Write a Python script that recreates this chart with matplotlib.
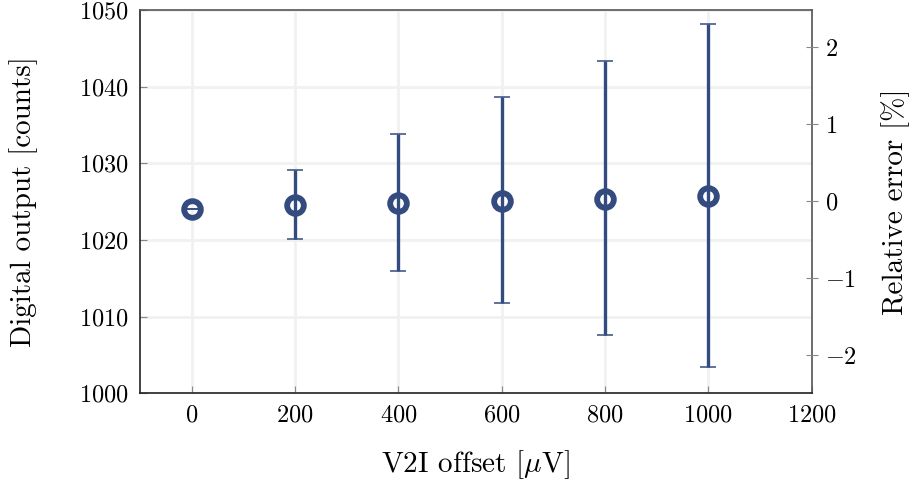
import matplotlib
matplotlib.use('Agg')
import matplotlib.pyplot as plt

# V2I offset sweep
offsets = [0, 200, 400, 600, 800, 1000]
counts = [1024.0, 1024.5, 1024.8, 1025.1, 1025.35, 1025.7]
lower = [1024.0, 1020.1, 1015.9, 1011.8, 1007.6, 1003.4]
upper = [1024.0, 1029.1, 1033.8, 1038.6, 1043.3, 1048.2]

x_ticks = [0, 200, 400, 600, 800, 1000, 1200]
y_ticks = [1000, 1010, 1020, 1030, 1040, 1050]
err_ticks = [-2, -1, 0, 1, 2]

plt.rcParams['font.family'] = ['cmr10', 'DejaVu Serif']
plt.rcParams['mathtext.fontset'] = 'cm'
plt.rcParams['axes.formatter.use_mathtext'] = True
plt.rcParams['axes.unicode_minus'] = True

color = '#344b80'

fig = plt.figure(figsize=(9.15, 4.8), dpi=100)
ax = fig.add_axes([0.153, 0.181, 0.734, 0.798])

yerr = [[c - lo for c, lo in zip(counts, lower)],
        [up - c for c, up in zip(counts, upper)]]
eb = ax.errorbar(offsets, counts, yerr=yerr, fmt='o', color=color,
                 markersize=12, markeredgewidth=4.2, markerfacecolor='none',
                 elinewidth=2.4, capsize=5.5, zorder=3)
for cap in eb[1]:
    cap.set_markeredgewidth(1.1)

ax.set_xlim(-100, 1200)
ax.set_ylim(1000, 1050)
ax.set_xticks(x_ticks)
ax.set_yticks(y_ticks)
ax.grid(True, color='#f1f1f1', linewidth=2)
ax.set_axisbelow(True)
ax.tick_params(axis='both', direction='in', length=5, color='#888888', labelsize=17.5)
ax.tick_params(axis='x', pad=8)
ax.tick_params(axis='y', pad=8)
for side in ['left', 'bottom']:
    ax.spines[side].set_color('#222222')
    ax.spines[side].set_linewidth(1.2)
for side in ['top', 'right']:
    ax.spines[side].set_color('#555555')
    ax.spines[side].set_linewidth(1.2)

ax.set_xlabel(r'V2I offset [$\mu$V]', fontsize=21, labelpad=16)
ax.set_ylabel('Digital output [counts]', fontsize=21, labelpad=30)

ax2 = ax.twinx()
ax2.set_ylim(-2.49, 2.48)
ax2.set_yticks(err_ticks)
ax2.tick_params(axis='y', direction='inout', length=8, color='#888888', labelsize=17.5, pad=6)
for side in ['left', 'right', 'top', 'bottom']:
    ax2.spines[side].set_visible(False)
ax2.set_ylabel('Relative error [%]', fontsize=21, labelpad=17)

fig.savefig('out.png', dpi=100)
